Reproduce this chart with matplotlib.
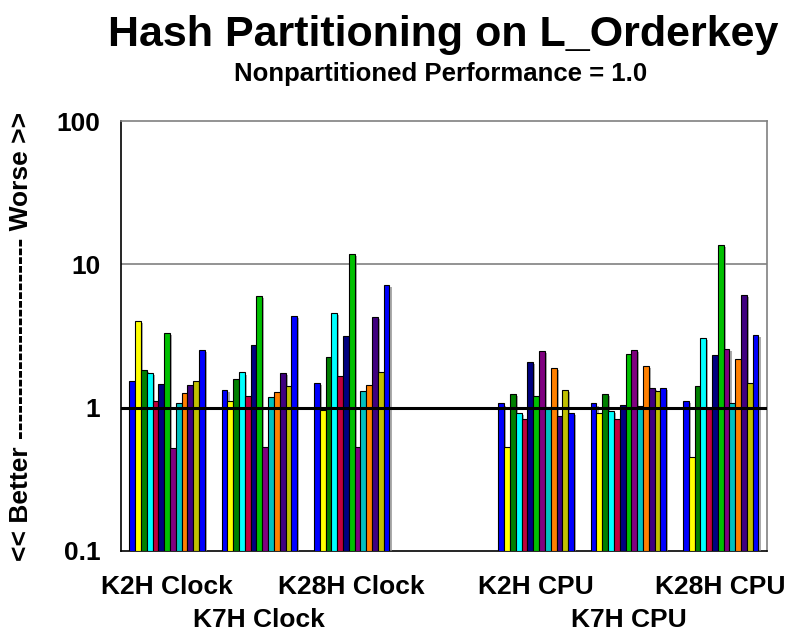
import numpy as np
import matplotlib
matplotlib.use("Agg")
import matplotlib.pyplot as plt
import matplotlib.patheffects as pe

plt.rcParams['font.family'] = ['Liberation Sans', 'DejaVu Sans']
plt.rcParams['font.weight'] = 'bold'

groups = ["K2H Clock", "K7H Clock", "K28H Clock", "", "K2H CPU", "K7H CPU", "K28H CPU"]

colors = ["#0000FF", "#FFFF00", "#008000", "#00FFFF", "#C0003C", "#000080", "#00C000",
          "#800080", "#00C0C0", "#FF8000", "#400080", "#C0C000", "#0000FF"]

# one list per non-empty group, 13 bars each
k2h_clock = [1.53, 4.03, 1.84, 1.75, 1.11, 1.46, 3.32, 0.52, 1.08, 1.27, 1.45, 1.54, 2.54]
k7h_clock = [1.33, 1.12, 1.59, 1.76, 1.21, 2.75, 5.98, 0.53, 1.18, 1.28, 1.75, 1.42, 4.38]
k28h_clock = [1.49, 0.96, 2.26, 4.58, 1.67, 3.16, 11.8, 0.53, 1.31, 1.45, 4.31, 1.78, 7.21]
k2h_cpu = [1.07, 0.53, 1.25, 0.92, 0.83, 2.09, 1.20, 2.49, 1.01, 1.89, 0.87, 1.33, 0.92]
k7h_cpu = [1.07, 0.92, 1.25, 0.95, 0.84, 1.05, 2.37, 2.51, 1.02, 1.95, 1.38, 1.31, 1.38]
k28h_cpu = [1.12, 0.45, 1.42, 3.06, 0.98, 2.33, 13.6, 2.57, 1.08, 2.17, 6.11, 1.49, 3.23]

data = {0: k2h_clock, 1: k7h_clock, 2: k28h_clock, 4: k2h_cpu, 5: k7h_cpu, 6: k28h_cpu}

fig = plt.figure(figsize=(7.93, 6.34), dpi=100)
ax = fig.add_axes([0.1526, 0.131, 0.8144, 0.678])

n = len(colors)
w = 0.063
shadow = [pe.SimplePatchShadow(offset=(1.5, -1.5), shadow_rgbFace='#888888', alpha=0.7), pe.Normal()]
for g, vals in data.items():
    xs = g + (np.arange(n) - (n - 1) / 2) * w
    vals = np.array(vals)
    bars = ax.bar(xs, vals - 0.1, bottom=0.1, width=w, color=colors,
                  edgecolor='black', linewidth=0.8, zorder=3)
    for b in bars:
        b.set_path_effects(shadow)

ax.set_yscale('log')
ax.set_ylim(0.1, 100)
ax.set_xlim(-0.5, len(groups) - 0.5)

ax.axhline(10, color='#808080', lw=1.2, zorder=1)
ax.axhline(1, color='black', lw=2.2, zorder=4)

ax.set_yticks([0.1, 1, 10, 100])
ax.set_yticklabels(["0.1", "1", "10", "100"], fontsize=19, fontweight='bold')
ax.yaxis.set_minor_locator(matplotlib.ticker.NullLocator())
ax.tick_params(axis='y', length=0, pad=15)
ax.set_xticks([])

for s in ['left', 'bottom']:
    ax.spines[s].set_color('black')
    ax.spines[s].set_linewidth(1.2)
for s in ['top', 'right']:
    ax.spines[s].set_color('#808080')
    ax.spines[s].set_linewidth(1.2)

# labels staggered on two rows
for i, name in enumerate(groups):
    if not name:
        continue
    yoff = -0.16 if i in (1, 5) else -0.084
    ax.text(i, yoff, name, transform=ax.get_xaxis_transform(), ha='center', va='center',
            fontsize=19, fontweight='bold')

fig.text(0.559, 0.945, "Hash Partitioning on L_Orderkey", ha='center', va='center',
         fontsize=31, fontweight='bold')
fig.text(0.556, 0.883, "Nonpartitioned Performance = 1.0", ha='center', va='center',
         fontsize=18.5, fontweight='bold')
fig.text(0.027, 0.469, "<< Better " + "-" * 23 + " Worse >>", rotation=90, ha='center', va='center',
         fontsize=19, fontweight='bold')

fig.savefig("out.png", dpi=100)
